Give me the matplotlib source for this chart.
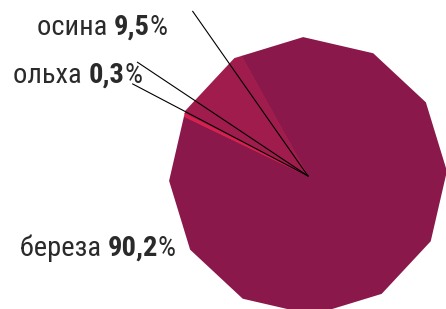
import numpy as np
import matplotlib.pyplot as plt
from matplotlib import font_manager
from matplotlib.patches import RegularPolygon

names = ["береза", "осина", "ольха"]
shares = [90.2, 9.5, 0.3]
value_text = ["90,2", "9,5", "0,3"]
colors = ["#8A184A", "#A01C4C", "#D8204E"]

W, H = 446, 309
fig = plt.figure(figsize=(W / 100, H / 100), dpi=100)
ax = fig.add_axes([0, 0, 1, 1])

cx, cy, r = 308, H - 176, 139

wedges, _ = ax.pie(shares, colors=colors, startangle=154.3, counterclock=True,
                   radius=r * 1.2, center=(cx, cy),
                   wedgeprops=dict(linewidth=0.6))
# the chart is a 12-sided "pie"
clip = RegularPolygon((cx, cy), 12, radius=r, orientation=np.deg2rad(2),
                      facecolor="none", edgecolor="none")
ax.add_patch(clip)
for w, c in zip(wedges, colors):
    w.set_edgecolor(c)
    w.set_clip_on(True)
    w.set_clip_path(clip)

# leader lines
for ang, length in [(125, 201), (146.3, 205), (152.3, 198)]:
    a = np.deg2rad(ang)
    ax.plot([cx, cx + length * np.cos(a)], [cy, cy + length * np.sin(a)],
            color="black", lw=0.8)

ax.set_xlim(0, W)
ax.set_ylim(0, H)
ax.axis("off")

installed = {f.name for f in font_manager.fontManager.ttflist}
font, size = "DejaVu Sans", 15
for cand in ["Roboto Condensed", "Liberation Sans Narrow", "Open Sans Condensed"]:
    if cand in installed:
        font, size = cand, 20.5
        break

label_pos = {"осина": (37, H - 35), "ольха": (13, H - 83), "береза": (20, H - 256)}
fig.canvas.draw()
rend = fig.canvas.get_renderer()
inv = ax.transData.inverted()
for name, val in zip(names, value_text):
    x, y = label_pos[name]
    for piece, weight in [(name + " ", "normal"), (val, "bold"), ("%", "normal")]:
        t = ax.text(x, y, piece, fontsize=size, fontweight=weight, family=font,
                    color="#2a2a2a", va="baseline", ha="left")
        bb = t.get_window_extent(rend)
        x = inv.transform((bb.x1, bb.y0))[0]

fig.savefig("out.png", dpi=100)
